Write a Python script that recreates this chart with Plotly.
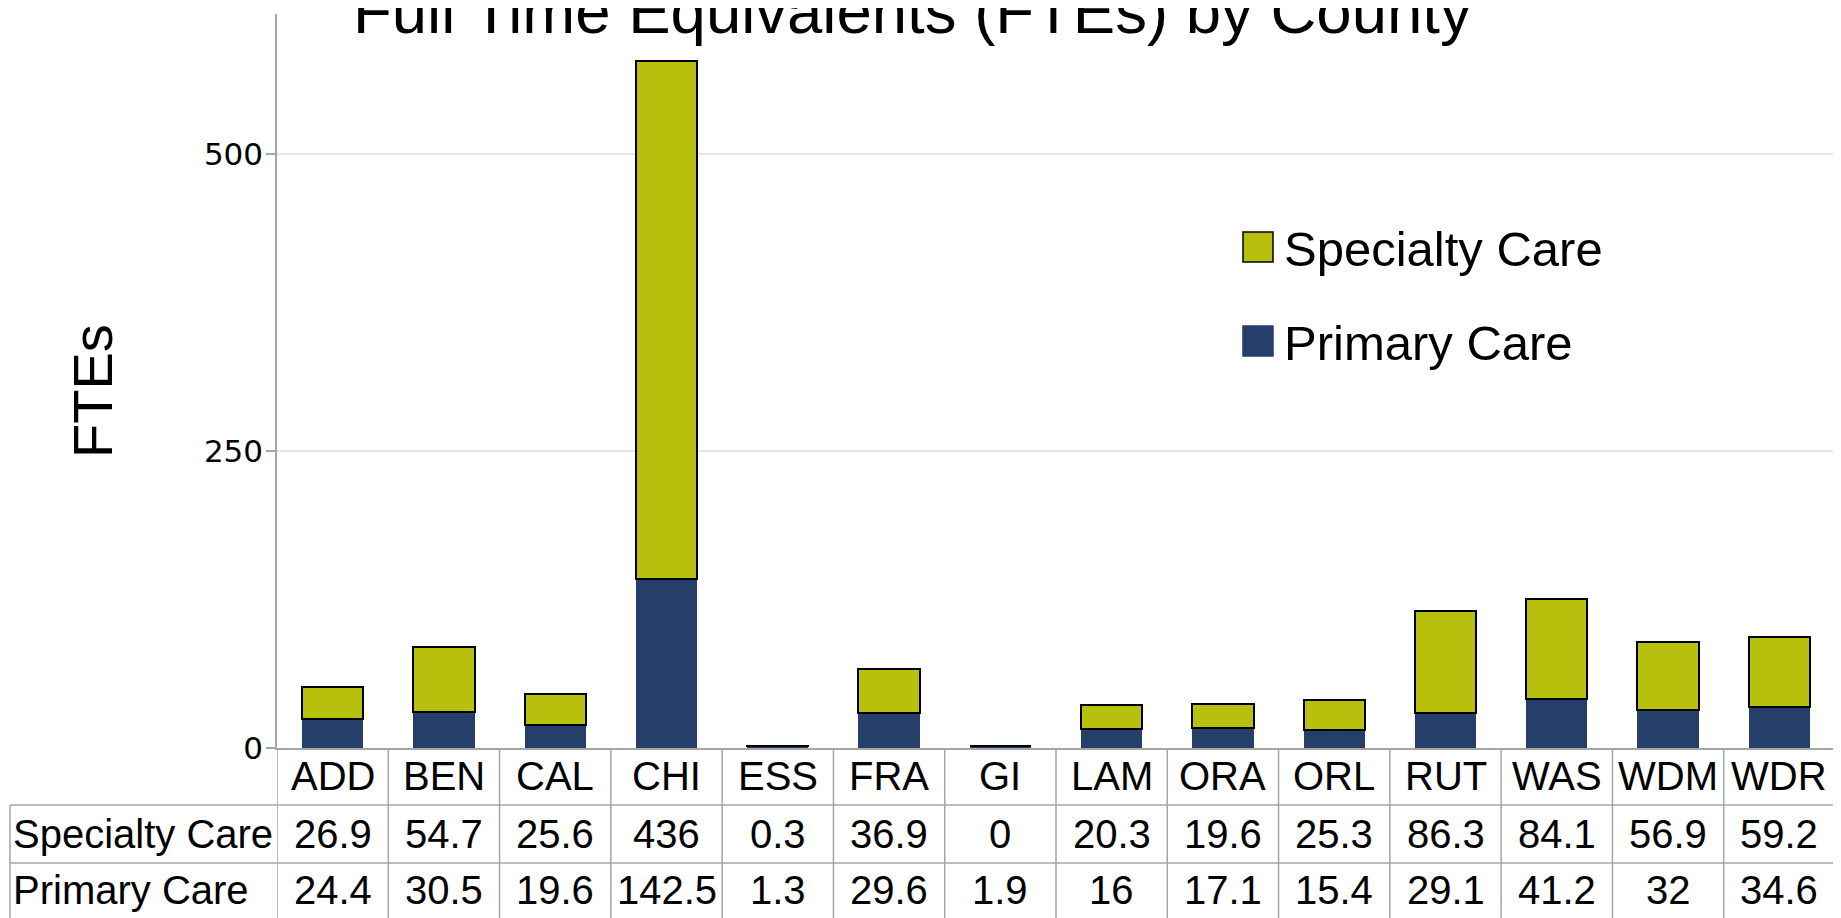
import plotly.graph_objects as go

# ---- data ----
counties = ["ADD", "BEN", "CAL", "CHI", "ESS", "FRA", "GI", "LAM", "ORA", "ORL", "RUT", "WAS", "WDM", "WDR"]
specialty_care = [26.9, 54.7, 25.6, 436, 0.3, 36.9, 0, 20.3, 19.6, 25.3, 86.3, 84.1, 56.9, 59.2]
primary_care = [24.4, 30.5, 19.6, 142.5, 1.3, 29.6, 1.9, 16, 17.1, 15.4, 29.1, 41.2, 32, 34.6]
y_ticks = [0, 250, 500]
title_text = "Full Time Equivalents (FTEs) by County"

# ---- style / layout constants (page pixels; page has an 8px body margin) ----
OFF = 8
W, H = 1841, 918
PLOT_L, PLOT_R, PLOT_T, PLOT_B = 277, 1835, 14, 748   # page px
ML = PLOT_L - OFF
MT = PLOT_T - OFF
MB = H - (PLOT_B - OFF)
MR = W - (PLOT_R - OFF)
PH = PLOT_B - PLOT_T
PW = PLOT_R - PLOT_L
SPEC_COLOR = "#b7c00c"
PRIM_COLOR = "#263f6a"
GRID = "#a6a6a6"
TXT_FONT = "Liberation Sans, Arial, sans-serif"


def py(ypx):
    """page pixel y -> paper y"""
    return (PLOT_B - ypx) / PH


def px(xpx):
    """page pixel x -> paper x"""
    return (xpx - PLOT_L) / PW


fig = go.Figure()
fig.add_trace(go.Bar(x=counties, y=primary_care, name="Primary Care",
                     marker=dict(color=PRIM_COLOR, line=dict(width=0)), showlegend=False))
fig.add_trace(go.Bar(x=counties, y=specialty_care, name="Specialty Care",
                     marker=dict(color=SPEC_COLOR, line=dict(color="black", width=2)), showlegend=False))

shapes = []
annotations = []

# table geometry (page pixels)
row_tops = [PLOT_B, 805, 863, 925]
table_left = 10
line = dict(color=GRID, width=1.5)

for yy in row_tops[1:]:
    shapes.append(dict(type="line", xref="paper", yref="paper", x0=px(table_left), x1=1,
                       y0=py(yy), y1=py(yy), line=line))
n = len(counties)
for i in range(n + 1):
    shapes.append(dict(type="line", xref="x", yref="paper", x0=i - 0.5, x1=i - 0.5,
                       y0=py(row_tops[0]), y1=py(row_tops[-1]), line=line))
shapes.append(dict(type="line", xref="paper", yref="paper", x0=px(table_left), x1=px(table_left),
                   y0=py(row_tops[1]), y1=py(row_tops[-1]), line=line))

# table texts
tfont = dict(family=TXT_FONT, size=40, color="black")
rows = [("Specialty Care", specialty_care), ("Primary Care", primary_care)]
row_mids = [776, 834, 890]
for c in counties:
    annotations.append(dict(x=c, xref="x", yref="paper", y=py(row_mids[0]),
                            text=c, showarrow=False, font=tfont, xanchor="center", yanchor="middle"))
for r, (label, vals) in enumerate(rows):
    ymid = py(row_mids[r + 1])
    annotations.append(dict(x=px(11), xref="paper", yref="paper", y=ymid, text=label,
                            showarrow=False, font=tfont, xanchor="left", yanchor="middle"))
    for c, v in zip(counties, vals):
        annotations.append(dict(x=c, xref="x", yref="paper", y=ymid, text=f"{v:g}",
                                showarrow=False, font=tfont, xanchor="center", yanchor="middle"))

# custom legend
legend_items = [("Specialty Care", SPEC_COLOR, "black", 247), ("Primary Care", PRIM_COLOR, PRIM_COLOR, 341)]
for name, col, lc, yc in legend_items:
    shapes.append(dict(type="rect", xref="paper", yref="paper",
                       x0=px(1243), x1=px(1273), y0=py(yc - 15), y1=py(yc + 15),
                       fillcolor=col, line=dict(color=lc, width=1.5)))
    annotations.append(dict(x=px(1282), y=py(yc + 2), xref="paper", yref="paper", text=name,
                            showarrow=False, xanchor="left", yanchor="middle",
                            font=dict(family=TXT_FONT, size=49, color="black")))

# y axis title
annotations.append(dict(x=px(92), y=py(391), xref="paper", yref="paper", text="FTEs", textangle=-90,
                        showarrow=False, xanchor="center", yanchor="middle",
                        font=dict(family=TXT_FONT, size=56, color="black")))
# chart title (partly cut off at top)
annotations.append(dict(x=px(912), y=py(11), xref="paper", yref="paper", text=title_text,
                        showarrow=False, xanchor="center", yanchor="middle",
                        font=dict(family=TXT_FONT, size=63.5, color="black")))

fig.update_layout(
    width=W, height=H,
    margin=dict(l=ML, r=MR, t=MT, b=MB),
    barmode="stack", bargap=0.45,
    plot_bgcolor="white", paper_bgcolor="white",
    shapes=shapes, annotations=annotations,
    xaxis=dict(range=[-0.5, n - 0.5], showticklabels=False, ticks="", showgrid=False,
               showline=True, linecolor=GRID, linewidth=1.5, zeroline=False),
    yaxis=dict(range=[0, 618], tickvals=y_ticks, showgrid=True, gridcolor="#e6e6e6", gridwidth=1.5,
               showline=True, linecolor=GRID, linewidth=1.5, ticks="outside", ticklen=9,
               tickcolor=GRID, tickwidth=1.5, zeroline=False, ticklabelstandoff=-3,
               tickfont=dict(family="DejaVu Sans, sans-serif", size=31, color="black")),
)

fig.write_html("out.html")
